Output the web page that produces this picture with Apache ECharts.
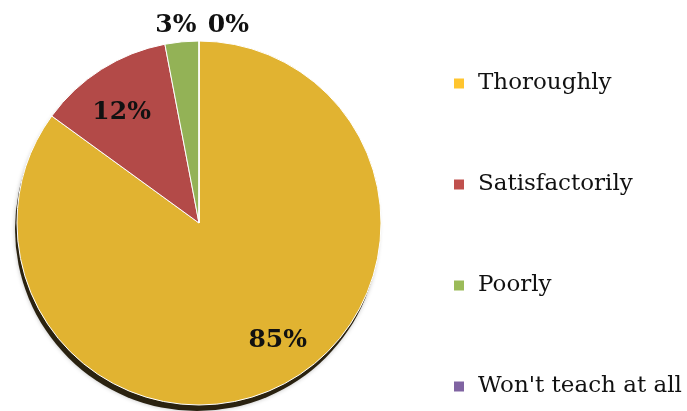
<!DOCTYPE html>
<html>
<head>
<meta charset="utf-8">
<script src="https://cdn.jsdelivr.net/npm/echarts@6/dist/echarts.min.js"></script>
<style>
  html, body { margin: 0; padding: 0; background: #fff; }
  #chart { width: 687px; height: 411px; }
</style>
</head>
<body>
<div id="chart"></div>
<script>
// answers and their share (%)
var categories = ['Thoroughly', 'Satisfactorily', 'Poorly', "Won't teach at all"];
var values = [85, 12, 3, 0];
var sliceColors = ['#E1B331', '#B34A48', '#93B256', '#8064A2'];
var legendColors = ['#FFC52F', '#C0504D', '#9BBB59', '#8064A2'];

var seriesData = [];
for (var i = 0; i < categories.length; ++i) {
    var item = {
        name: categories[i],
        value: values[i],
        itemStyle: { color: sliceColors[i] }
    };
    // the two big slices carry their label inside
    if (i < 2) {
        item.label = { position: 'inside' };
    }
    seriesData.push(item);
}

var legendData = [];
for (var j = 0; j < categories.length; ++j) {
    legendData.push({ name: categories[j], itemStyle: { color: legendColors[j] } });
}

// label nudges (dx, dy) per slice
var labelShift = [[36, 34], [-27, -31], [20, -12], [55, -12]];

var myChart = echarts.init(document.getElementById('chart'));

var option = {
    animation: false,
    legend: {
        orient: 'vertical',
        left: 447,
        top: 67,
        itemWidth: 12,
        itemHeight: 12,
        itemGap: 78,
        icon: 'rect',
        data: legendData,
        textStyle: {
            fontFamily: 'DejaVu Serif',
            fontSize: 23,
            color: '#111',
            padding: [0, 0, 0, 8]
        }
    },
    series: [{
        // dark rim under the pie
        type: 'pie',
        silent: true,
        center: [197, 229],
        radius: 182,
        data: [{ value: 1, name: 'rim' }],
        itemStyle: {
            color: '#2a2210',
            shadowColor: 'rgba(0,0,0,0.25)',
            shadowBlur: 4
        },
        label: { show: false },
        labelLine: { show: false },
        tooltip: { show: false }
    }, {
        type: 'pie',
        center: [199, 223],
        radius: 182,
        startAngle: 90,
        clockwise: true,
        avoidLabelOverlap: false,
        data: seriesData,
        itemStyle: {
            borderColor: '#fff',
            borderWidth: 1
        },
        label: {
            show: true,
            position: 'outside',
            formatter: '{d}%',
            fontFamily: 'DejaVu Serif',
            fontWeight: 'bold',
            fontSize: 25,
            color: '#111'
        },
        labelLine: { show: false, length: 4, length2: 0 },
        labelLayout: function (params) {
            var s = labelShift[params.dataIndex];
            return { dx: s[0], dy: s[1] };
        }
    }]
};

myChart.setOption(option);
</script>
</body>
</html>
